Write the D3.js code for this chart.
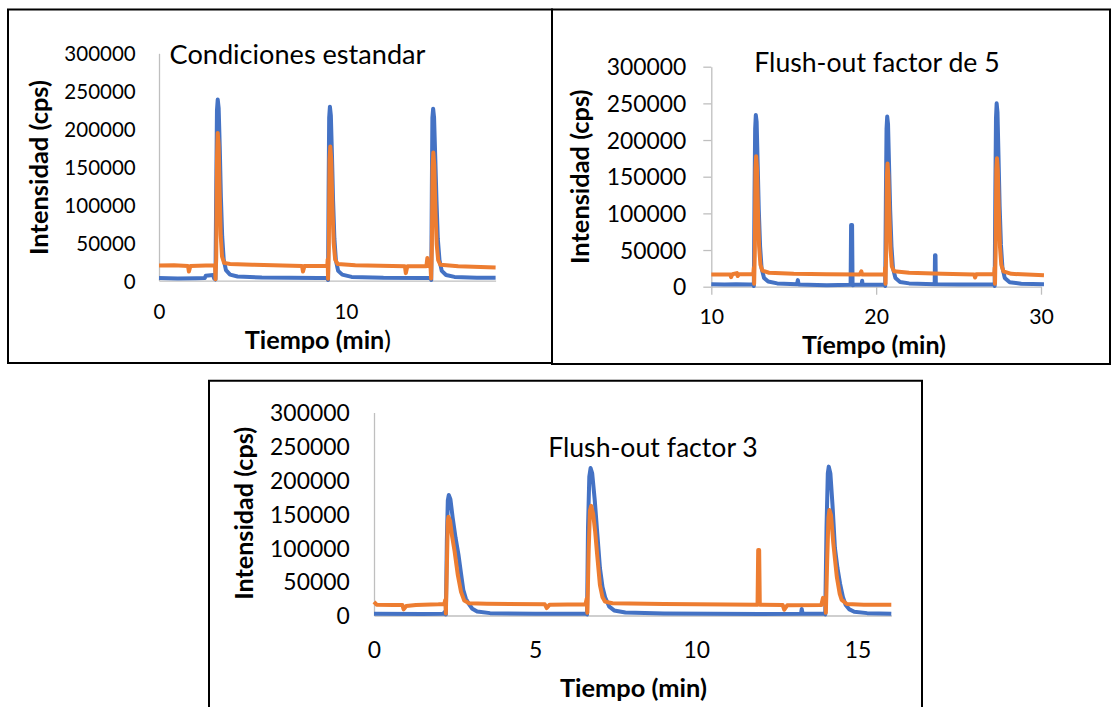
<!DOCTYPE html>
<html><head><meta charset="utf-8">
<script src="https://cdn.jsdelivr.net/npm/d3@7"></script>
<style>
html,body{margin:0;padding:0;background:#fff;}
svg{display:block;}
text{font-family:Lato,"Open Sans",sans-serif;fill:#000;}
</style></head>
<body>
<svg id="chart" width="1112" height="707"></svg>
<script>
// ---------------- DATA ----------------
const yTickValues = [0, 50000, 100000, 150000, 200000, 250000, 300000];

const p1Title = "Condiciones estandar";
const p1XTicks = [0, 10];
const p1Blue = [[0,3500],[1.0,3000],[2.0,3200],[2.45,3500],[2.5,6500],[2.9,7500],[2.95,3000],[3.02,1500],[3.06,120000],[3.1,225000],[3.14,239000],[3.19,228000],[3.25,175000],[3.31,110000],[3.38,58000],[3.46,28000],[3.58,14000],[3.8,8000],[4.2,5500],[5.5,4200],[7,3800],[8.5,3500],[9.0,3500],[9.04,1000],[9.07,120000],[9.1,215000],[9.14,229500],[9.19,218000],[9.25,165000],[9.31,105000],[9.38,55000],[9.46,27000],[9.58,13000],[9.8,8000],[10.3,5000],[12,3800],[14,3500],[14.52,3500],[14.56,1000],[14.59,120000],[14.62,215000],[14.66,227000],[14.71,215000],[14.77,165000],[14.84,105000],[14.91,55000],[15.0,27000],[15.12,13000],[15.35,7500],[15.8,5000],[17,4000],[18,4000]];
const p1Orange = [[0,20000],[0.8,20500],[1.55,19500],[1.6,12000],[1.68,19500],[2.5,20000],[3.0,20500],[3.02,2000],[3.06,30000],[3.1,160000],[3.14,195000],[3.19,180000],[3.24,120000],[3.3,60000],[3.37,32000],[3.48,23500],[3.8,22000],[5,21000],[7.65,19500],[7.7,12000],[7.78,19500],[9.0,19500],[9.02,28000],[9.04,2500],[9.08,40000],[9.12,160000],[9.16,177000],[9.21,160000],[9.27,100000],[9.34,50000],[9.42,28000],[9.55,22000],[10.5,20500],[13.15,19000],[13.2,10000],[13.28,19000],[14.3,19000],[14.35,30000],[14.42,19000],[14.52,19000],[14.55,3000],[14.59,40000],[14.63,150000],[14.67,169000],[14.72,152000],[14.78,95000],[14.85,48000],[14.93,27000],[15.05,21000],[16,19000],[18,17500]];

const p2Title = "Flush-out factor de 5";
const p2XTicks = [10, 20, 30];
const p2Blue = [[10,3500],[10.8,3000],[11.5,3500],[12.3,3000],[12.55,3500],[12.58,1000],[12.62,120000],[12.66,215000],[12.7,234000],[12.75,225000],[12.81,170000],[12.88,105000],[12.96,55000],[13.05,25000],[13.2,12000],[13.45,7000],[14,4500],[15.2,3500],[15.25,9000],[15.3,3000],[17,2000],[18.45,2500],[18.48,84000],[18.54,84000],[18.57,2000],[18.7,2500],[19.12,2500],[19.15,8000],[19.18,2500],[20.5,3000],[20.55,1000],[20.59,120000],[20.63,215000],[20.67,232000],[20.72,222000],[20.78,168000],[20.85,105000],[20.93,55000],[21.02,25000],[21.17,12000],[21.45,6500],[22,4500],[23.55,3500],[23.57,43000],[23.6,43000],[23.62,3500],[25,3000],[27.15,3000],[27.19,1000],[27.23,130000],[27.27,230000],[27.31,250000],[27.36,238000],[27.42,180000],[27.49,110000],[27.57,57000],[27.66,26000],[27.8,12000],[28.1,6000],[28.8,4000],[30.18,3500]];
const p2Orange = [[10,16500],[11.15,16500],[11.2,13000],[11.28,17000],[11.55,18500],[11.6,14500],[11.68,17000],[12.55,17000],[12.58,26000],[12.6,4000],[12.64,50000],[12.68,160000],[12.72,178000],[12.77,162000],[12.83,105000],[12.9,55000],[12.98,30000],[13.1,22000],[13.5,19000],[15,17500],[17,17000],[19,16500],[19.1,21000],[19.15,16500],[20.52,16500],[20.55,26000],[20.57,4000],[20.61,50000],[20.65,150000],[20.69,168000],[20.74,152000],[20.8,100000],[20.87,52000],[20.95,28000],[21.08,21000],[22,19000],[24,17500],[25.95,16500],[26.0,12500],[26.08,17000],[27.16,17000],[27.19,26000],[27.21,4000],[27.25,50000],[27.29,160000],[27.33,175000],[27.38,160000],[27.44,105000],[27.51,55000],[27.59,30000],[27.72,21000],[28.2,17500],[30.18,15500]];

const p3Title = "Flush-out factor 3";
const p3XTicks = [0, 5, 10, 15];
const p3Blue = [[0,2500],[1.5,2200],[2.15,2500],[2.2,5500],[2.23,1500],[2.26,110000],[2.29,170000],[2.32,178000],[2.37,172000],[2.44,145000],[2.53,115000],[2.62,90000],[2.7,62000],[2.77,38000],[2.85,25000],[2.93,18000],[3.05,10000],[3.2,6000],[3.6,3500],[5,2500],[6.58,2500],[6.61,1500],[6.64,130000],[6.68,205000],[6.72,218000],[6.77,210000],[6.85,170000],[6.93,120000],[7.01,70000],[7.09,42000],[7.17,27000],[7.3,13000],[7.45,7500],[7.8,4500],[9,3000],[12,2200],[13.25,2500],[13.27,9600],[13.3,2500],[13.98,2500],[14.0,1500],[14.04,130000],[14.08,210000],[14.11,220000],[14.16,210000],[14.23,160000],[14.3,100000],[14.38,70000],[14.46,47000],[14.55,27000],[14.63,16000],[14.75,9000],[14.9,5500],[15.3,3500],[16.05,2500]];
const p3Orange = [[0,20000],[0.08,16000],[0.6,15500],[0.88,15500],[0.92,9000],[1.0,14000],[1.3,15500],[2.0,16500],[2.18,17000],[2.21,23000],[2.23,3000],[2.26,70000],[2.29,140000],[2.31,146000],[2.36,140000],[2.42,118000],[2.5,95000],[2.6,60000],[2.7,35000],[2.8,22000],[2.95,18000],[3.5,17500],[5.3,16500],[5.36,11000],[5.45,16000],[6.56,16500],[6.6,25000],[6.62,4000],[6.66,95000],[6.7,155000],[6.74,162000],[6.8,150000],[6.86,125000],[6.92,92000],[7.01,45000],[7.09,27000],[7.17,20500],[7.4,18000],[9,17000],[11.9,16000],[11.92,96800],[11.95,96800],[11.97,16000],[12.68,15500],[12.73,8500],[12.82,15000],[13.88,15500],[13.93,26000],[13.98,17000],[14.0,24000],[14.02,4000],[14.06,80000],[14.1,145000],[14.13,156000],[14.18,148000],[14.25,107000],[14.36,57000],[14.45,32000],[14.51,23000],[14.67,17000],[15.2,16000],[16.05,16000]];

const yAxisTitle = "Intensidad (cps)";

// ---------------- DRAW ----------------
const BLUE = "#4472C4", ORANGE = "#ED7D31", AXIS = "#BFBFBF";
const LW = 4;
const svg = d3.select("#chart");
svg.append("rect").attr("width",1112).attr("height",707).attr("fill","#fff");

function fit(sel, target, base){
  sel.style("font-size", base+"px");
  const w = sel.node().getComputedTextLength();
  const s = base*target/w;
  sel.style("font-size", s+"px");
  return s;
}

// borders
svg.append("rect").attr("x",8).attr("y",9.5).attr("width",544).attr("height",353.5)
  .attr("fill","none").attr("stroke","#000").attr("stroke-width",2);
svg.append("path").attr("d","M552,9.5H1110V364H552Z")
  .attr("fill","none").attr("stroke","#000").attr("stroke-width",2);
svg.append("path").attr("d","M209,707V380.7H922V707")
  .attr("fill","none").attr("stroke","#000").attr("stroke-width",2);

function panel(c){
  const x = d3.scaleLinear().domain(c.xDomain).range([c.x0, c.x1]);
  const y = d3.scaleLinear().domain([0,300000]).range([c.y0, c.y1]);
  const g = svg.append("g");

  // y axis
  const ya = g.append("g").attr("transform",`translate(${c.x0},0)`)
    .call(d3.axisLeft(y).tickValues(yTickValues).tickFormat(d3.format("d"))
      .tickSize(c.tick).tickSizeOuter(0).tickPadding(c.yPad));
  ya.select(".domain").attr("stroke",AXIS).attr("stroke-width",1.3);
  ya.selectAll(".tick line").attr("stroke",AXIS).attr("stroke-width",1.3);
  const yt = ya.selectAll(".tick text").attr("dy","0.36em").attr("fill","#000")
    .attr("font-family",null).attr("font-size",null);
  const big = ya.selectAll(".tick text").filter(d=>d===300000);
  const fs = fit(big, c.yLabW, 20);
  yt.style("font-size", fs+"px");

  // x axis
  const xa = g.append("g").attr("transform",`translate(0,${c.y0})`)
    .call(d3.axisBottom(x).tickValues(c.xTicks).tickFormat(d3.format("d"))
      .tickSize(c.tick).tickSizeOuter(0));
  xa.select(".domain").attr("stroke",AXIS).attr("stroke-width",1.3);
  xa.selectAll(".tick line").attr("stroke",AXIS).attr("stroke-width",1.3);
  xa.selectAll(".tick text").attr("y", c.xLabBase - c.y0).attr("dy",0)
    .attr("fill","#000").attr("font-family",null).attr("font-size",null)
    .style("font-size", (fs*c.xLabScale)+"px");

  // lines
  const line = d3.line().x(d=>x(d[0])).y(d=>y(d[1]));
  g.append("path").datum(c.blue).attr("d",line).attr("fill","none")
    .attr("stroke",BLUE).attr("stroke-width",LW).attr("stroke-linejoin","round");
  g.append("path").datum(c.orange).attr("d",line).attr("fill","none")
    .attr("stroke",ORANGE).attr("stroke-width",LW).attr("stroke-linejoin","round");

  // title
  const t = g.append("text").attr("x",c.tX).attr("y",c.tY).text(c.title);
  fit(t, c.tW, 24);

  // x title
  const xt = g.append("text").attr("x",c.xtX).attr("y",c.xtY).attr("text-anchor","middle")
    .style("font-weight","bold");
  xt.append("tspan").text(c.xTitle);
  if (c.xTitleTail) xt.append("tspan").style("font-weight","normal").text(c.xTitleTail);
  fit(xt, c.xtW, 20);

  // y title
  const ytl = g.append("text").attr("transform",`translate(${c.ytX},${c.ytY}) rotate(-90)`)
    .attr("text-anchor","middle").style("font-weight","bold").text(yAxisTitle);
  fit(ytl, c.ytW, 20);
}

panel({xDomain:[0,18], x0:159, x1:495.6, y0:280.7, y1:53.3, tick:0, yPad:23.3, yLabW:71.4,
  xTicks:p1XTicks, xLabBase:319, xLabScale:1, blue:p1Blue, orange:p1Orange,
  title:p1Title, tX:169.6, tY:64, tW:256,
  xTitle:"Tiempo (min", xTitleTail:")", xtX:317.9, xtY:349, xtW:146.4,
  ytX:47.6, ytY:167.5, ytW:175});

panel({xDomain:[10,30], x0:711.3, x1:1041, y0:286.7, y1:66.7, tick:8, yPad:17, yLabW:79.6,
  xTicks:p2XTicks, xLabBase:324.5, xLabScale:0.93, blue:p2Blue, orange:p2Orange,
  title:p2Title, tX:754.3, tY:71.7, tW:245.5,
  xTitle:"Tíempo (min)", xtX:874, xtY:354, xtW:144,
  ytX:589.2, ytY:176.7, ytW:174.7});

panel({xDomain:[0,16.05], x0:374, x1:891.3, y0:615.5, y1:412.5, tick:0, yPad:24.3, yLabW:79.7,
  xTicks:p3XTicks, xLabBase:658, xLabScale:1, blue:p3Blue, orange:p3Orange,
  title:p3Title, tX:548.2, tY:457, tW:209.7,
  xTitle:"Tiempo (min)", xtX:633.4, xtY:697, xtW:147,
  ytX:252.9, ytY:513.3, ytW:173});
</script>
</body></html>
